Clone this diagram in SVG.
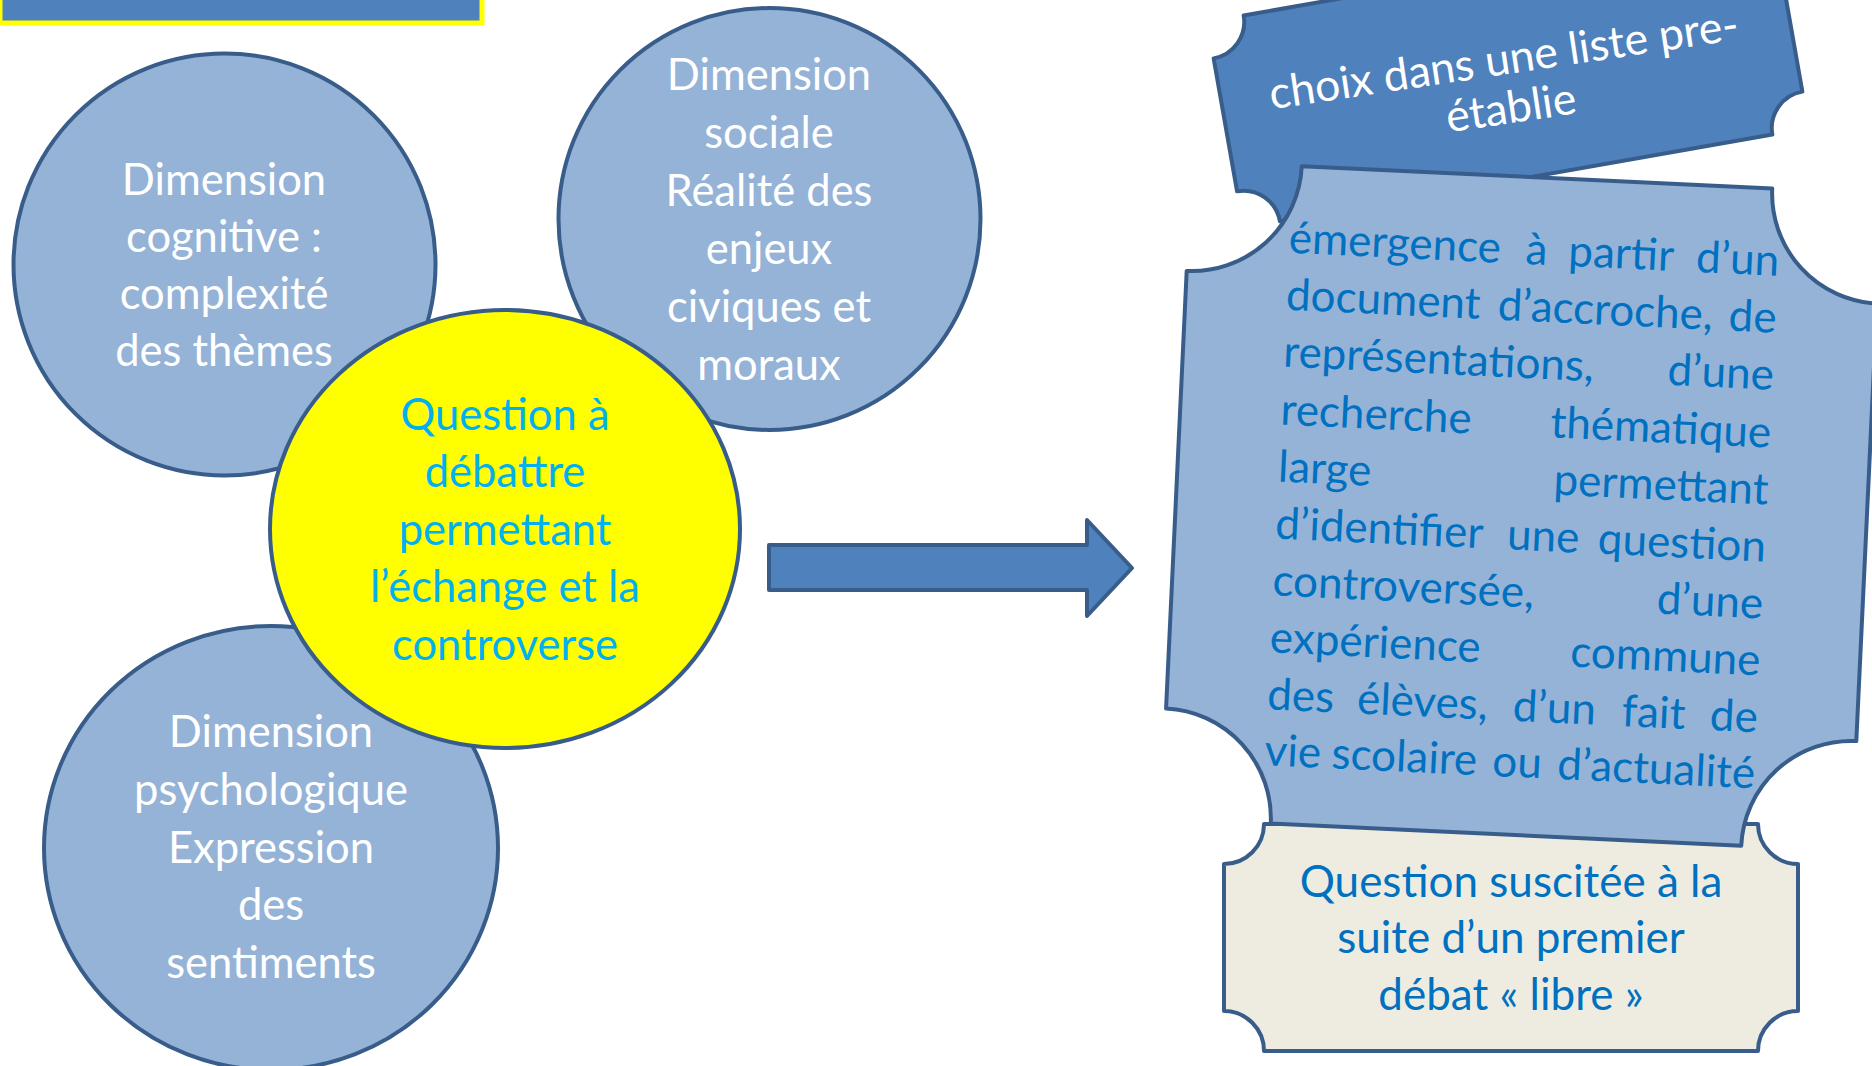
<svg xmlns="http://www.w3.org/2000/svg" width="1872" height="1066" viewBox="0 0 1872 1066">
<style>
.circ{fill:#95b3d7;stroke:#385d8a;stroke-width:4}
.yel{fill:#ffff00;stroke:#385d8a;stroke-width:4}
.wt{fill:#ffffff;font-family:Lato,"Open Sans",sans-serif;font-size:43.5px;text-anchor:middle}
.yt{fill:#00b0f0;font-family:Lato,"Open Sans",sans-serif;font-size:43.5px;text-anchor:middle}
.bt{fill:#0070c0;font-family:Lato,"Open Sans",sans-serif;font-size:44px}
.mid{text-anchor:middle}
.end{text-anchor:end}
.dk{fill:#4f81bd;stroke:#385d8a;stroke-width:4;stroke-linejoin:round}
.lt{fill:#95b3d7;stroke:#385d8a;stroke-width:4;stroke-linejoin:round}
.bg{fill:#eeece1;stroke:#385d8a;stroke-width:4;stroke-linejoin:round}
</style>

<g id="title-bar">
<rect x="0" y="-30" width="482" height="53" fill="#4f81bd" stroke="#ffff00" stroke-width="5"/>
</g>

<g id="node-cognitive">
<circle class="circ" cx="224.5" cy="264.5" r="211"/>
<text class="wt"><tspan x="224" y="195">Dimension</tspan><tspan x="224" y="252">cognitive :</tspan><tspan x="224" y="309">complexité</tspan><tspan x="224" y="366">des thèmes</tspan></text>
</g>

<g id="node-social">
<circle class="circ" cx="769.5" cy="219" r="211"/>
<text class="wt"><tspan x="769" y="90">Dimension</tspan><tspan x="769" y="148">sociale</tspan><tspan x="769" y="206">Réalité des</tspan><tspan x="769" y="264">enjeux</tspan><tspan x="769" y="322">civiques et</tspan><tspan x="769" y="380">moraux</tspan></text>
</g>

<g id="node-psychologique">
<ellipse class="circ" cx="271" cy="848" rx="227" ry="222"/>
<text class="wt"><tspan x="271" y="747">Dimension</tspan><tspan x="271" y="805">psychologique</tspan><tspan x="271" y="863">Expression</tspan><tspan x="271" y="920">des</tspan><tspan x="271" y="978">sentiments</tspan></text>
</g>

<g id="node-question">
<ellipse class="yel" cx="505" cy="529" rx="235" ry="219"/>
<text class="yt"><tspan x="505" y="430">Question à</tspan><tspan x="505" y="487">débattre</tspan><tspan x="505" y="545">permettant</tspan><tspan x="505" y="602">l’échange et la</tspan><tspan x="505" y="660">controverse</tspan></text>
</g>

<g id="connectors">
<polygon class="dk" points="769,545 1087,545 1087,520 1132,568 1087,616 1087,590 769,590"/>
</g>

<g id="node-choix" transform="translate(1508,75) rotate(-10)">
<path class="dk" d="M-250,-104.5 L250,-104.5 A37 37 0 0 0 287,-67.5 L287,67.5 A37 37 0 0 0 250,104.5 L-250,104.5 A37 37 0 0 0 -287,67.5 L-287,-67.5 A37 37 0 0 0 -250,-104.5 Z"/>
<text class="wt" style="font-size:44.5px" transform="rotate(1.5)"><tspan x="-2" y="-1">choix dans une liste pre-</tspan><tspan x="-2" y="48">établie</tspan></text>
</g>

<g id="node-debat-libre">
<path class="bg" d="M1264,824 L1758,824 A40 40 0 0 0 1798,864 L1798,1011 A40 40 0 0 0 1758,1051 L1264,1051 A40 40 0 0 0 1224,1011 L1224,864 A40 40 0 0 0 1264,824 Z"/>
<text class="bt mid"><tspan x="1511" y="897">Question suscitée à la</tspan><tspan x="1511" y="953">suite d’un premier</tspan><tspan x="1511" y="1010">débat « libre »</tspan></text>
</g>

<g id="node-emergence" transform="translate(1521.5,506) rotate(2.7)">
<path class="lt" d="M-235.5,-329 L235.5,-329 A110 110 0 0 0 345.5,-219 L345.5,219 A110 110 0 0 0 235.5,329 L-235.5,329 A110 110 0 0 0 -345.5,219 L-345.5,-219 A110 110 0 0 0 -235.5,-329 Z"/>
<g class="bt">
<text x="-245" y="-242">émergence</text><text x="-8" y="-242">à</text><text x="35" y="-242">partir</text><text class="end" x="246" y="-242">d’un</text>
<text x="-245" y="-185">document</text><text x="-33" y="-185">d’accroche,</text><text class="end" x="246" y="-185">de</text>
<text x="-245" y="-128">représentations,</text><text class="end" x="246" y="-128">d’une</text>
<text x="-245" y="-70">recherche</text><text class="end" x="246" y="-70">thématique</text>
<text x="-245" y="-13">large</text><text class="end" x="246" y="-13">permettant</text>
<text x="-245" y="44">d’identifier</text><text x="-13" y="44">une</text><text class="end" x="246" y="44">question</text>
<text x="-245" y="101">controversée,</text><text class="end" x="246" y="101">d’une</text>
<text x="-245" y="158">expérience</text><text class="end" x="246" y="158">commune</text>
<text x="-245" y="215">des</text><text x="-155" y="215">élèves,</text><text x="1" y="215">d’un</text><text x="110" y="215">fait</text><text class="end" x="246" y="215">de</text>
<text x="-245" y="271">vie</text><text x="-178" y="271">scolaire</text><text x="-17" y="271">ou</text><text class="end" x="246" y="271">d’actualité</text>
</g>
</g>
</svg>
